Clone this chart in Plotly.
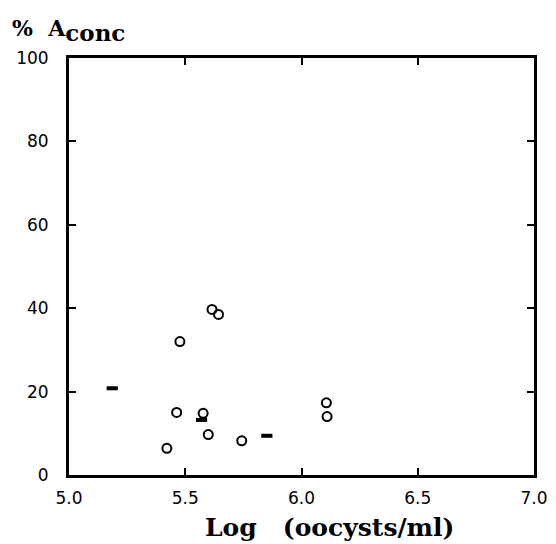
import plotly.graph_objects as go

# open-circle points
open_x = [5.477, 5.615, 5.643, 5.463, 5.577, 5.599, 5.421, 5.743, 6.107, 6.110]
open_y = [32.0, 39.7, 38.5, 15.0, 14.8, 9.7, 6.4, 8.2, 17.3, 14.0]
# filled (dash-like) points
fill_x = [5.186, 5.570, 5.851]
fill_y = [20.8, 13.2, 9.4]

x_ticks = [5.0, 5.5, 6.0, 6.5, 7.0]
x_ticklabels = ["5.0", "5.5", "6.0", "6.5", "7.0"]
y_ticks = [0, 20, 40, 60, 80, 100]
y_ticklabels = ["0", "20", "40", "60", "80", "100"]

fig = go.Figure()
fig.add_trace(go.Scatter(
    x=open_x, y=open_y, mode="markers",
    marker=dict(symbol="circle-open", size=9, color="black", line=dict(width=2, color="black")),
    showlegend=False))
fig.add_trace(go.Scatter(
    x=fill_x, y=fill_y, mode="markers",
    marker=dict(symbol="line-ew", size=8, color="black", line=dict(width=4, color="black")),
    showlegend=False))

axis_common = dict(
    showgrid=False, zeroline=False, showline=True, linecolor="black", linewidth=3,
    ticks="inside", ticklen=7, tickwidth=2, tickcolor="black", mirror="ticks",
    tickfont=dict(family="DejaVu Sans", size=17, color="black"),
    ticklabeloverflow="allow",
)
fig.update_layout(
    width=548, height=536,
    margin=dict(l=59, r=8, t=50, b=69),
    paper_bgcolor="white", plot_bgcolor="white",
    xaxis=dict(range=[5.0, 7.0], tickvals=x_ticks, ticktext=x_ticklabels,
               ticklabelstandoff=6, **axis_common),
    yaxis=dict(range=[0, 100], tickvals=y_ticks, ticktext=y_ticklabels,
               ticklabelstandoff=14, **axis_common),
    annotations=[
        dict(text="<b>%&nbsp;&nbsp;A<sub><span style='font-size:23px'>conc</span></sub></b>",
             xref="paper", yref="paper",
             x=-0.127, y=1.067, xanchor="left", yanchor="middle", showarrow=False,
             font=dict(family="DejaVu Serif", size=22, color="black")),
        dict(text="<b>Log&nbsp;&nbsp;&nbsp;(oocysts/ml)</b>", xref="paper", yref="paper",
             x=0.56, y=-0.125, xanchor="center", yanchor="middle", showarrow=False,
             font=dict(family="DejaVu Serif", size=25, color="black")),
    ],
)
fig.write_html("out.html")
